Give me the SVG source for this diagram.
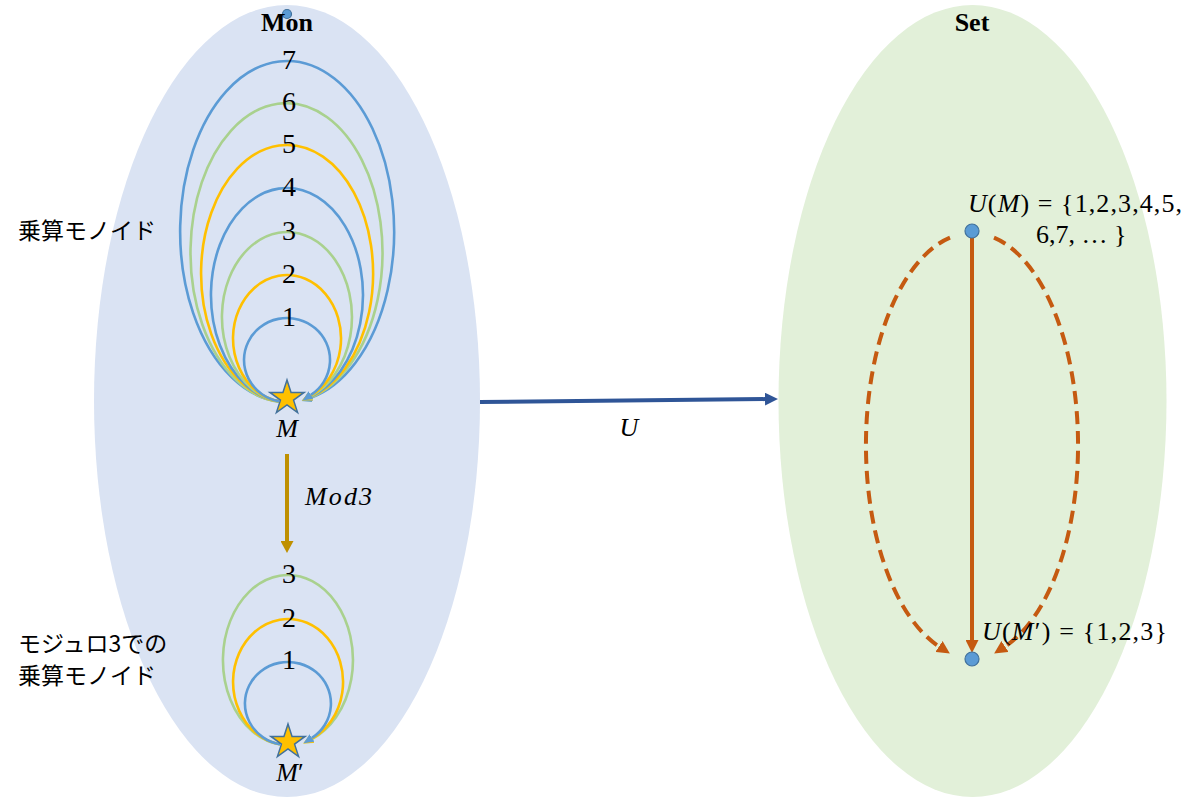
<svg xmlns="http://www.w3.org/2000/svg" width="1200" height="799" viewBox="0 0 1200 799">
<style>
.loop{fill:none;stroke-width:2.6}
.b{stroke:#5B9BD5}
.g{stroke:#A9D18E}
.o{stroke:#FFC000}
.num{font-family:"Liberation Serif",serif;font-size:28px;text-anchor:middle;fill:#000}
.title{font-family:"Liberation Serif",serif;font-size:26px;font-weight:bold;text-anchor:middle;fill:#000}
.math{font-family:"Liberation Serif",serif;font-size:26px;fill:#000}
.it{font-style:italic}
.jp{font-family:"Noto Sans CJK JP",sans-serif;font-size:23px;fill:#000}
.star{fill:#FFC000;stroke:#41719C;stroke-width:1.5}
.dot{fill:#5B9BD5;stroke:#41719C;stroke-width:1.2}
</style>
<defs>
<marker id="ab" markerUnits="userSpaceOnUse" markerWidth="10" markerHeight="9" refX="0" refY="4.5" orient="auto"><path d="M0,0 L10,4.5 L0,9 z" fill="#5B9BD5"/></marker>
<marker id="ag" markerUnits="userSpaceOnUse" markerWidth="10" markerHeight="9" refX="0" refY="4.5" orient="auto"><path d="M0,0 L10,4.5 L0,9 z" fill="#A9D18E"/></marker>
<marker id="ao" markerUnits="userSpaceOnUse" markerWidth="10" markerHeight="9" refX="0" refY="4.5" orient="auto"><path d="M0,0 L10,4.5 L0,9 z" fill="#FFC000"/></marker>
<marker id="amod" markerUnits="userSpaceOnUse" markerWidth="12" markerHeight="13" refX="0" refY="6.5" orient="auto"><path d="M0,0 L12,6.5 L0,13 z" fill="#BF9000"/></marker>
<marker id="aU" markerUnits="userSpaceOnUse" markerWidth="13" markerHeight="13" refX="0" refY="6.5" orient="auto"><path d="M0,0 L13,6.5 L0,13 z" fill="#2F5597"/></marker>
<marker id="ar" markerUnits="userSpaceOnUse" markerWidth="13" markerHeight="13" refX="0" refY="6.5" orient="auto"><path d="M0,0 L13,6.5 L0,13 z" fill="#C55A11"/></marker>
<path id="starShape" d="M0,-18 L4.06,-5.58 L17.12,-5.56 L6.56,2.13 L10.58,14.56 L0,6.9 L-10.58,14.56 L-6.56,2.13 L-17.12,-5.56 L-4.06,-5.58 Z"/>
</defs>

<g id="mon">
<ellipse cx="287" cy="401" rx="193" ry="396" fill="#DAE3F3"/>
<circle class="dot" cx="287" cy="14" r="4.5"/>
<text class="title" x="287" y="31">Mon</text>
</g>

<g id="set">
<ellipse cx="972.5" cy="401" rx="194" ry="396" fill="#E2F0D9"/>
<text class="title" x="972" y="31">Set</text>
</g>

<g id="labels-jp">
<text class="jp" x="18" y="239">乗算モノイド</text>
<text class="jp" x="18" y="652">モジュロ3での</text>
<text class="jp" x="18" y="684">乗算モノイド</text>
</g>

<g id="connectors">
<path class="loop b" d="M279,401.5 A107,170.5 0 1 1 311,397.7" marker-end="url(#ab)"/>
<path class="loop g" d="M279,401.7 A96,149.5 0 1 1 311,397.2" marker-end="url(#ag)"/>
<path class="loop o" d="M279,401.4 A86,128.5 0 1 1 311,396.9" marker-end="url(#ao)"/>
<path class="loop b" d="M279,401.4 A76,107 0 1 1 311,396.5" marker-end="url(#ab)"/>
<path class="loop g" d="M279,401.4 A65,85 0 1 1 311,396.0" marker-end="url(#ag)"/>
<path class="loop o" d="M279,401.3 A54,63.5 0 1 1 311,395.4" marker-end="url(#ao)"/>
<path class="loop b" d="M279,401.3 A43,42 0 1 1 311,394.9" marker-end="url(#ab)"/>
<path class="loop g" d="M280,744.4 A65,85 0 1 1 312,739.0" marker-end="url(#ag)"/>
<path class="loop o" d="M280,744.3 A55,63 0 1 1 312,738.7" marker-end="url(#ao)"/>
<path class="loop b" d="M280,744.3 A43,41.5 0 1 1 312,737.9" marker-end="url(#ab)"/>
<path d="M287,454 L287,541" stroke="#BF9000" stroke-width="4" fill="none" marker-end="url(#amod)"/>
<path d="M480,402 L765,399.1" stroke="#2F5597" stroke-width="4" fill="none" marker-end="url(#aU)"/>
<path d="M972,238 L972,640" stroke="#C55A11" stroke-width="4" fill="none" marker-end="url(#ar)"/>
<path d="M950,237.6 A106,212 0 0 0 939,646.5" stroke="#C55A11" stroke-width="4" fill="none" stroke-dasharray="13 7" marker-end="url(#ar)"/>
<path d="M994,237.6 A106,212 0 0 1 1005,646.5" stroke="#C55A11" stroke-width="4" fill="none" stroke-dasharray="13 7" marker-end="url(#ar)"/>
</g>

<g id="node-M">
<use href="#starShape" class="star" transform="translate(287,398)"/>
<text class="math it" x="287" y="437" text-anchor="middle">M</text>
</g>

<g id="node-Mprime">
<use href="#starShape" class="star" transform="translate(288,742)"/>
<text class="math" x="290" y="781" text-anchor="middle"><tspan class="it">M</tspan>′</text>
</g>

<g id="numbers">
<text class="num" x="289" y="69">7</text>
<text class="num" x="289" y="111">6</text>
<text class="num" x="289" y="153">5</text>
<text class="num" x="289" y="196">4</text>
<text class="num" x="289" y="240">3</text>
<text class="num" x="289" y="283">2</text>
<text class="num" x="289" y="326">1</text>
<text class="num" x="289" y="583">3</text>
<text class="num" x="289" y="627">2</text>
<text class="num" x="289" y="669">1</text>
</g>

<g id="edge-labels">
<text class="math it" x="305" y="505" font-size="27" textLength="67" lengthAdjust="spacing">Mod3</text>
<text class="math it" x="629" y="436" text-anchor="middle">U</text>
</g>

<g id="node-UM">
<circle class="dot" cx="972" cy="231" r="7"/>
<text class="math" x="968" y="212" textLength="214" lengthAdjust="spacing"><tspan class="it">U</tspan>(<tspan class="it">M</tspan>) = {1,2,3,4,5,</text>
<text class="math" x="1036" y="243">6,7, … }</text>
</g>

<g id="node-UMprime">
<circle class="dot" cx="972" cy="659" r="7"/>
<text class="math" x="982" y="640" textLength="185" lengthAdjust="spacing"><tspan class="it">U</tspan>(<tspan class="it">M</tspan>′) = {1,2,3}</text>
</g>
</svg>
